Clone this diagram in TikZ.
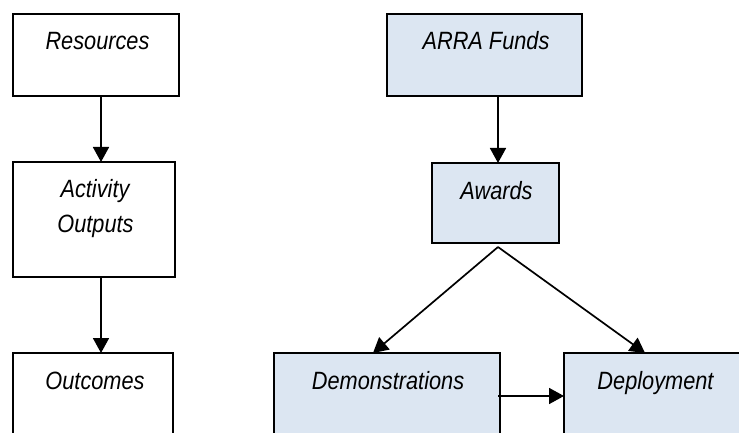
\documentclass[tikz,border=0pt]{standalone}
\usepackage{fontspec}
\setmainfont{Liberation Sans}[FakeStretch=0.87]
\usetikzlibrary{arrows.meta,calc}
\definecolor{boxblue}{HTML}{DCE6F2}
\begin{document}
\begin{tikzpicture}[x=1pt,y=-1pt,
  box/.style={draw=black,line width=2pt,inner sep=0pt,outer sep=0pt},
  plainbox/.style={box,fill=white},
  bluebox/.style={box,fill=boxblue},
  lbl/.style={anchor=base,inner sep=0pt,font=\fontsize{25}{30}\selectfont\itshape},
  arr/.style={line width=1.7pt,-{Triangle[length=15pt,width=16pt]}}]
\useasboundingbox (0,0) rectangle (739,433);
\clip (0,0) rectangle (739,433);

% logic model (left column)
\node[plainbox,minimum width=166,minimum height=82] (res) at (96,55) {};
\node[plainbox,minimum width=162,minimum height=115] (act) at (94,219.5) {};
\node[plainbox,minimum width=160,minimum height=120] (out) at (93,413) {};
\node[lbl] (tres) at (97.5,50) {Resources};
\node[lbl] (tact1) at (95,197) {Activity};
\node[lbl] (tact2) at (95.5,232) {Outputs};
\node[lbl] (tout) at (95,389) {Outcomes};

% ARRA programme (right side)
\node[bluebox,minimum width=195,minimum height=82] (arra) at (484.5,55) {};
\node[bluebox,minimum width=127,minimum height=80] (awd) at (495.5,203) {};
\node[bluebox,minimum width=226,minimum height=120] (dem) at (387,413) {};
\node[bluebox,minimum width=200,minimum height=120] (dep) at (664,413) {};
\node[lbl] (tarra) at (486,50) {ARRA Funds};
\node[lbl] (tawd) at (496.5,199) {Awards};
\node[lbl] (tdem) at (388,389) {Demonstrations};
\node[lbl] (tdep) at (655.5,389) {Deployment};

% connectors
\draw[arr] ([xshift=5pt]res.south) -- ([xshift=5pt]res.south |- act.north);
\draw[arr] ([xshift=7pt]act.south) -- ([xshift=7pt]act.south |- out.north);
\draw[arr] ([xshift=13.5pt]arra.south) -- ([xshift=13.5pt]arra.south |- awd.north);
\coordinate (apex) at ([xshift=2.5pt,yshift=-4pt]awd.south);
\coordinate (demtop) at ([xshift=-14pt]dem.north);
\coordinate (deptop) at ([xshift=-19pt]dep.north);
\draw[arr] (apex) -- (demtop);
\draw[arr] (apex) -- (deptop);
\draw[arr] ([xshift=-2pt,yshift=17pt]dem.east) -- ([yshift=17pt]dep.west);
\end{tikzpicture}
\end{document}
